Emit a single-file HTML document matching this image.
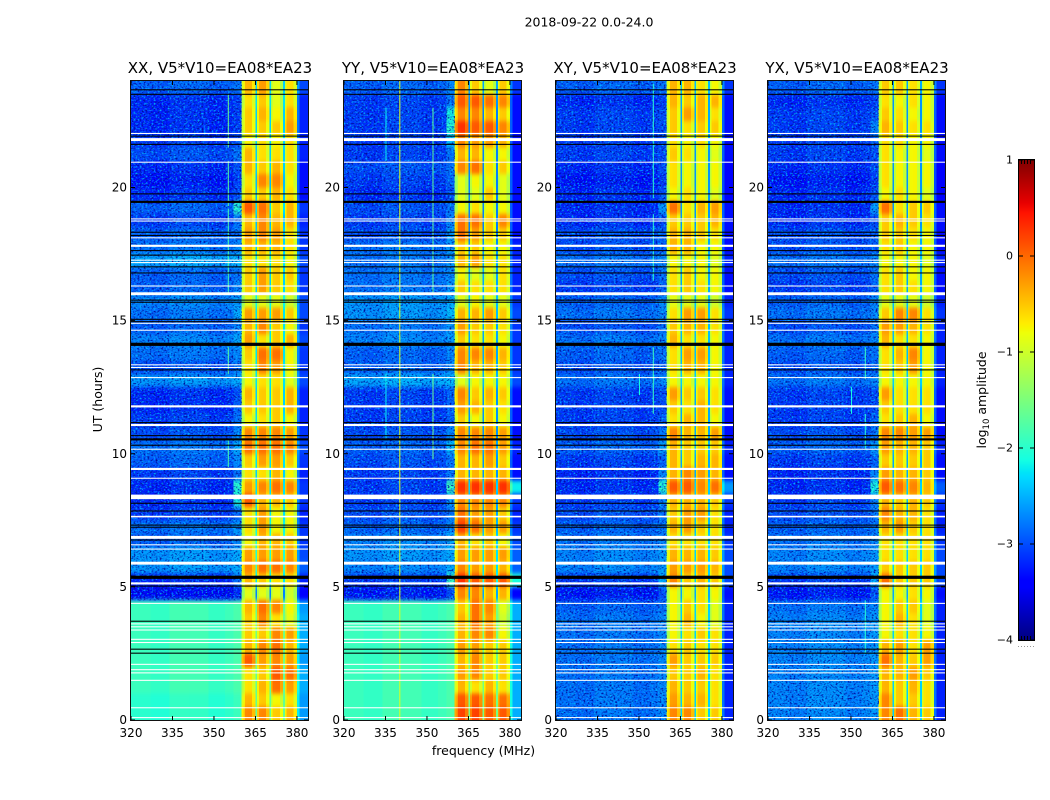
<!DOCTYPE html>
<html lang="en">
<head>
<meta charset="utf-8">
<title>2018-09-22 spectrogram</title>
<style>
html,body{margin:0;padding:0;background:#fff;}
svg{display:block;}
text{font-family:"DejaVu Sans","Liberation Sans",sans-serif;fill:#000;}
</style>
</head>
<body>
<svg id="figure" width="1050" height="800" viewBox="0 0 1050 800" xmlns="http://www.w3.org/2000/svg">
  <defs>
    <filter id="soften" x="0" y="-5%" width="100%" height="110%" color-interpolation-filters="sRGB">
      <feGaussianBlur stdDeviation="0 2"/>
    </filter>
    <filter id="speckleDark" x="0" y="0" width="100%" height="100%" color-interpolation-filters="sRGB">
      <feTurbulence type="fractalNoise" baseFrequency="0.5 0.6" numOctaves="2" seed="4"/>
      <feColorMatrix type="matrix" values="0 0 0 0 0  0 0 0 0 0.05  0 0 0 0 0.6  3.6 0 0 0 -1.75"/>
    </filter>
    <filter id="speckleLight" x="0" y="0" width="100%" height="100%" color-interpolation-filters="sRGB">
      <feTurbulence type="fractalNoise" baseFrequency="0.5 0.6" numOctaves="2" seed="11"/>
      <feColorMatrix type="matrix" values="0 0 0 0 0  0 0 0 0 0.7  0 0 0 0 1  0 3.4 0 0 -1.75"/>
    </filter>
  </defs>
  <rect x="0" y="0" width="1050" height="800" fill="#fff"/>
  <text x="589" y="26.5" font-size="12.5" text-anchor="middle">2018-09-22 0.0-24.0</text>
  <text x="483.5" y="755" font-size="12.5" text-anchor="middle">frequency (MHz)</text>
  <text x="0" y="0" font-size="12.5" text-anchor="middle" transform="translate(102,399.5) rotate(-90)">UT (hours)</text>
  <text x="0" y="0" font-size="12.5" text-anchor="middle" transform="translate(986,400) rotate(-90)">log<tspan font-size="8.5" dy="3">10</tspan><tspan dy="-3"> amplitude</tspan></text>
  <g id="panels"></g>
  <g id="colorbar"></g>
</svg>
<script>
// ---- Data (log10 amplitude) ----
const panelTitles = ["XX, V5*V10=EA08*EA23","YY, V5*V10=EA08*EA23","XY, V5*V10=EA08*EA23","YX, V5*V10=EA08*EA23"];
const xTickValues = [320,335,350,365,380];
const yTickValues = [0,5,10,15,20];
const yTickLabels = ["0","5","10","15","20"];
const colorTickValues = [1,0,-1,-2,-3,-4];
const colorTickLabels = ["1","0","\u22121","\u22122","\u22123","\u22124"];
const hourBinWidth = 0.5;

// Columns of each row: background, shoulder, sub-band 1-4, upper edge, notch. Rows run 24h -> 0h.
const xxRows = [
[-2.7,-2.6,-.5,-.4,-.9,-.7,-2.7,-2.0],[-3.0,-2.9,-.7,-.6,-.9,-.7,-2.9,-1.9],[-3.0,-2.9,-.6,-.5,-.8,-.5,-2.9,-2.0],[-3.0,-2.9,-.6,-.6,-.6,-.4,-2.9,-2.0],
[-2.9,-2.8,-.8,-.7,-.8,-.7,-2.9,-2.0],[-2.8,-2.6,-.5,-.7,-.7,-.7,-2.9,-2.0],[-3.0,-2.8,-.5,-.6,-.5,-.7,-3.0,-2.0],[-3.1,-2.9,-.7,-.3,-.3,-.8,-3.0,-2.1],
[-3.0,-2.8,-.6,-.6,-.5,-.7,-3.0,-2.1],[-2.7,-2.0,-.1,-.2,-.6,-.5,-2.8,-1.9],[-2.9,-2.6,-.5,-.3,-.5,-.5,-2.9,-2.1],[-2.7,-2.6,-.4,-.3,-.4,-.7,-2.8,-2.0],
[-2.6,-2.5,-.5,-.5,-.5,-.7,-2.8,-2.0],[-2.3,-2.2,-.7,-.7,-.7,-.8,-2.7,-1.9],[-2.7,-2.6,-.6,-.4,-.6,-.6,-2.8,-2.0],[-2.7,-2.5,-.6,-.4,-.6,-.7,-2.8,-2.0],
[-2.5,-2.4,-.9,-.9,-.9,-1.0,-2.7,-1.8],[-2.6,-2.3,-.4,-.4,-.4,-.6,-2.7,-1.9],[-2.7,-2.5,-.5,-.3,-.6,-.8,-2.8,-1.9],[-2.5,-2.3,-.4,-.7,-.6,-.5,-2.7,-1.9],
[-2.6,-2.5,-.6,-.2,-.2,-.8,-2.8,-1.9],[-2.8,-2.6,-.7,-.3,-.4,-.8,-2.8,-1.9],[-2.4,-2.3,-.8,-.7,-.7,-.9,-2.7,-1.9],[-3.0,-2.8,-.5,-.6,-.6,-.5,-2.9,-2.0],
[-3.0,-2.7,-.6,-.6,-.6,-.5,-2.9,-2.0],[-2.9,-2.6,-.8,-.7,-.6,-.8,-2.9,-1.9],[-2.8,-2.5,-.3,-.3,-.3,-.4,-2.8,-1.8],[-2.6,-2.3,-.2,-.2,-.2,-.3,-2.7,-1.7],
[-2.7,-2.5,-.6,-.4,-.4,-.6,-2.8,-1.9],[-2.9,-2.6,-.7,-.7,-.5,-.8,-2.9,-2.0],[-3.0,-2.0,-.4,-.3,-.2,-.3,-2.8,-1.9],[-3.0,-2.1,-.1,-.5,-.5,-.6,-2.8,-1.9],
[-2.9,-2.7,-.7,-.4,-.8,-.8,-2.9,-1.9],[-2.6,-2.4,-.7,-.4,-.8,-.8,-2.8,-1.8],[-2.7,-2.5,-.8,-.5,-.5,-.6,-2.8,-1.7],[-2.4,-2.3,-.4,-.4,-.4,-.4,-2.7,-1.7],
[-2.4,-2.3,-.3,-.2,-.2,-.3,-2.6,-1.6],[-3.0,-2.6,-.5,-.6,-.7,-.7,-2.9,-1.9],[-3.2,-3.0,-.9,-.9,-.9,-1.0,-3.1,-2.4],[-1.9,-1.8,-.5,-.2,-.3,-.8,-2.3,-1.3],
[-1.9,-1.8,-.6,-.3,-.7,-.9,-2.2,-1.2],[-1.9,-1.8,-.6,-.6,-.3,-.4,-2.2,-1.2],[-1.9,-1.8,-.5,-.3,-.2,-.5,-2.2,-1.2],[-1.9,-1.8,-.1,-.4,-.3,-.4,-2.3,-1.2],
[-1.9,-1.8,-.7,-.6,-.1,-.2,-2.2,-1.3],[-1.9,-1.8,-.7,-.5,-.2,-.4,-2.2,-1.3],[-2.0,-1.9,-.5,-.6,-.8,-.7,-2.3,-1.3],[-2.0,-1.9,-.3,-.3,-.6,-.5,-2.3,-1.3]
];
const yyRows = [
[-2.7,-2.5,-.3,-.6,-.9,-.6,-2.8,-2.2],[-2.9,-2.6,-.1,-.1,-.2,-.3,-3.0,-2.3],[-2.9,-2.1,-.3,-.3,-.5,-.6,-3.0,-2.4],[-2.9,-2.0,.1,-.1,-.1,-.3,-3.0,-2.4],
[-2.9,-2.2,-.3,-.4,-.4,-.5,-3.0,-2.4],[-2.9,-2.6,-.5,-.5,-.8,-.8,-3.0,-2.4],[-2.8,-2.6,-.3,-.2,-.7,-.6,-3.0,-2.4],[-2.9,-2.7,-.9,-.8,-.8,-.9,-3.0,-2.4],
[-3.0,-2.8,-.9,-.9,-.6,-.9,-3.0,-2.4],[-2.8,-2.6,-.8,-.7,-.8,-.8,-3.0,-2.4],[-2.9,-2.5,-.2,-.2,-.6,-.3,-3.0,-2.4],[-2.8,-2.4,-.2,-.4,-.6,-.6,-3.0,-2.4],
[-2.6,-2.4,-.6,-.6,-.8,-.8,-2.9,-2.3],[-2.6,-2.4,-.5,-.4,-.7,-.7,-2.9,-2.2],[-2.6,-2.5,-.8,-.9,-.9,-.7,-2.9,-2.2],[-2.6,-2.4,-.6,-.7,-.7,-.7,-2.9,-2.2],
[-2.4,-2.3,-.9,-.8,-.9,-.9,-2.8,-2.1],[-2.4,-2.2,-.5,-.5,-.4,-.6,-2.7,-2.1],[-2.6,-2.4,-.4,-.6,-.6,-.7,-2.8,-2.2],[-2.5,-2.4,-.6,-.7,-.7,-.8,-2.8,-2.2],
[-2.7,-2.5,-.3,-.3,-.3,-.5,-2.8,-2.2],[-2.7,-2.5,-.3,-.5,-.5,-.6,-2.8,-2.2],[-2.3,-2.2,-.9,-.8,-.8,-.8,-2.7,-2.1],[-2.9,-2.7,-.3,-.6,-.5,-.6,-3.0,-2.3],
[-2.9,-2.7,-.4,-.5,-.6,-.7,-3.0,-2.3],[-2.9,-2.7,-.6,-.8,-.6,-.8,-3.0,-2.3],[-2.8,-2.5,-.3,-.3,-.3,-.4,-3.0,-2.3],[-2.7,-2.2,-.3,-.2,-.2,-.4,-2.9,-2.2],
[-2.8,-2.6,-.5,-.5,-.4,-.6,-3.0,-2.3],[-2.9,-2.6,-.5,-.5,-.5,-.5,-3.0,-2.3],[-2.9,-1.9,.2,.2,.2,.2,-2.1,-2.0],[-2.9,-2.4,-.3,-.3,-.3,-.3,-2.8,-2.2],
[-2.8,-2.6,-.2,-.4,-.4,-.6,-2.9,-2.2],[-2.7,-2.5,0,-.2,-.4,-.4,-2.8,-2.1],[-2.5,-2.3,-.5,-.7,-.6,-.8,-2.7,-2.0],[-2.4,-2.3,-.4,-.4,-.4,-.4,-2.6,-1.9],
[-2.5,-2.3,-.3,-.4,-.4,-.5,-2.6,-1.9],[-2.9,-1.9,.1,-.1,-.1,-.1,-2.0,-1.8],[-3.1,-2.8,-.3,-.3,-.5,-.5,-3.1,-2.2],[-1.9,-1.8,-.6,-.2,-.3,-.9,-2.2,-1.2],
[-1.9,-1.8,-.5,-.2,-.4,-1.0,-2.2,-1.2],[-1.9,-1.8,-.5,-.3,-.3,-.8,-2.2,-1.2],[-1.9,-1.8,-.4,-.4,-.6,-.6,-2.2,-1.2],[-1.9,-1.8,-.5,-.3,-.6,-.6,-2.2,-1.2],
[-1.9,-1.8,-.4,-.3,-.6,-.6,-2.2,-1.2],[-1.9,-1.8,-.5,-.7,-.5,-.7,-2.2,-1.2],[-1.9,-1.8,-.1,-.1,-.2,-.2,-2.2,-1.2],[-1.9,-1.8,0,0,-.1,-.1,-2.2,-1.2]
];
const xyRows = [
[-2.7,-2.6,-.5,-.5,-.7,-.8,-2.8,-2.1],[-3.0,-2.9,-.5,-.6,-.5,-.5,-3.0,-2.2],[-2.9,-2.8,-.6,-.4,-.5,-.7,-3.0,-2.2],[-2.9,-2.8,-.6,-.7,-.6,-.6,-3.0,-2.2],
[-2.9,-2.8,-.7,-.8,-.7,-.8,-3.0,-2.2],[-2.9,-2.8,-.6,-.7,-.8,-.9,-3.0,-2.3],[-3.0,-2.8,-.7,-.8,-.8,-.8,-3.1,-2.3],[-3.1,-2.9,-.7,-.8,-.8,-.8,-3.1,-2.3],
[-3.0,-2.8,-.8,-.7,-.8,-.9,-3.1,-2.3],[-3.0,-2.4,-.2,-.7,-.5,-.4,-3.0,-2.3],[-3.0,-2.8,-.6,-.6,-.6,-.5,-3.0,-2.3],[-2.8,-2.7,-.5,-.5,-.6,-.7,-3.0,-2.2],
[-2.8,-2.7,-.5,-.5,-.8,-.8,-3.0,-2.2],[-2.6,-2.5,-.8,-.8,-.8,-.9,-2.9,-2.1],[-2.8,-2.6,-.7,-.6,-.8,-.8,-3.0,-2.2],[-2.9,-2.7,-.7,-.6,-.7,-.8,-3.0,-2.2],
[-2.7,-2.5,-.9,-.9,-.9,-1.0,-2.9,-2.1],[-2.6,-2.5,-.7,-.4,-.4,-.7,-2.8,-2.1],[-2.8,-2.6,-.6,-.5,-.5,-.7,-2.9,-2.1],[-2.6,-2.5,-.5,-.7,-.7,-.8,-2.9,-2.1],
[-2.7,-2.6,-.7,-.4,-.4,-.8,-2.9,-2.1],[-2.8,-2.7,-.7,-.5,-.5,-.8,-2.9,-2.1],[-2.6,-2.5,-.8,-.8,-.8,-.8,-2.9,-2.0],[-2.9,-2.8,-.4,-.6,-.6,-.7,-3.0,-2.2],
[-2.9,-2.8,-.6,-.7,-.5,-.7,-3.0,-2.2],[-2.9,-2.7,-.7,-.5,-.5,-.8,-3.0,-2.2],[-2.8,-2.6,-.3,-.5,-.5,-.4,-3.0,-2.2],[-2.7,-2.4,-.5,-.6,-.6,-.6,-2.9,-2.1],
[-2.9,-2.7,-.5,-.6,-.5,-.5,-3.0,-2.2],[-3.0,-2.5,-.5,-.3,-.4,-.5,-3.0,-2.2],[-3.0,-2.0,-.1,-.1,-.3,-.2,-2.3,-2.0],[-2.9,-2.5,-.5,-.5,-.5,-.6,-2.8,-2.1],
[-2.8,-2.6,-.6,-.4,-.4,-.7,-2.9,-2.1],[-2.7,-2.6,-.5,-.4,-.6,-.7,-2.9,-2.1],[-2.6,-2.5,-.7,-.7,-.7,-.7,-2.8,-2.0],[-2.5,-2.4,-.5,-.5,-.5,-.6,-2.7,-2.0],
[-2.5,-2.4,-.4,-.4,-.4,-.5,-2.7,-2.0],[-2.9,-2.3,-.3,-.6,-.5,-.6,-2.7,-2.0],[-3.1,-2.8,-.8,-.8,-.7,-.8,-3.0,-2.2],[-2.7,-2.6,-.8,-.6,-.7,-.9,-2.9,-2.0],
[-2.6,-2.5,-.8,-.5,-.8,-.9,-2.9,-2.0],[-2.6,-2.5,-.8,-.7,-.6,-.7,-2.9,-2.0],[-2.6,-2.5,-.7,-.6,-.7,-.7,-2.9,-2.0],[-2.6,-2.5,-.4,-.6,-.6,-.6,-2.9,-2.0],
[-2.6,-2.5,-.6,-.6,-.5,-.7,-2.9,-2.0],[-2.6,-2.5,-.5,-.6,-.6,-.7,-2.9,-2.0],[-2.6,-2.5,-.4,-.5,-.5,-.7,-2.9,-2.0],[-2.6,-2.5,-.3,-.3,-.6,-.6,-2.9,-2.0]
];
const yxRows = [
[-2.7,-2.6,-.6,-.6,-.7,-.8,-2.8,-2.2],[-3.0,-2.9,-.7,-.8,-.7,-.8,-3.0,-2.3],[-2.9,-2.8,-.6,-.7,-.8,-.8,-3.0,-2.3],[-2.9,-2.5,-.5,-.6,-.7,-.7,-3.0,-2.3],
[-2.9,-2.7,-.7,-.7,-.8,-.8,-3.0,-2.3],[-2.9,-2.8,-.7,-.8,-.8,-.9,-3.0,-2.3],[-3.0,-2.8,-.7,-.8,-.8,-.8,-3.1,-2.3],[-3.1,-2.9,-.7,-.8,-.8,-.8,-3.1,-2.3],
[-3.0,-2.8,-.8,-.7,-.8,-.9,-3.1,-2.3],[-3.0,-2.4,-.2,-.7,-.6,-.6,-3.0,-2.3],[-3.0,-2.8,-.6,-.5,-.6,-.7,-3.0,-2.3],[-2.8,-2.7,-.6,-.6,-.7,-.8,-3.0,-2.2],
[-2.8,-2.7,-.7,-.6,-.8,-.8,-3.0,-2.2],[-2.6,-2.5,-.8,-.8,-.8,-.9,-2.9,-2.1],[-2.8,-2.6,-.7,-.6,-.8,-.8,-3.0,-2.2],[-2.9,-2.7,-.7,-.6,-.7,-.8,-3.0,-2.2],
[-2.7,-2.5,-.9,-.9,-.9,-1.0,-2.9,-2.1],[-2.6,-2.5,-.6,-.3,-.3,-.7,-2.8,-2.1],[-2.8,-2.6,-.4,-.4,-.5,-.7,-2.9,-2.1],[-2.6,-2.5,-.5,-.7,-.7,-.8,-2.9,-2.1],
[-2.7,-2.6,-.7,-.5,-.3,-.8,-2.9,-2.1],[-2.8,-2.7,-.7,-.6,-.4,-.8,-2.9,-2.1],[-2.6,-2.5,-.8,-.8,-.8,-.8,-2.9,-2.0],[-2.9,-2.8,-.4,-.7,-.7,-.7,-3.0,-2.2],
[-2.9,-2.8,-.6,-.7,-.7,-.7,-3.0,-2.2],[-2.9,-2.7,-.7,-.6,-.5,-.8,-3.0,-2.2],[-2.8,-2.6,-.3,-.3,-.4,-.4,-3.0,-2.2],[-2.7,-2.4,-.4,-.5,-.5,-.6,-2.9,-2.1],
[-2.9,-2.7,-.6,-.6,-.6,-.6,-3.0,-2.2],[-3.0,-2.5,-.4,-.5,-.5,-.6,-3.0,-2.2],[-3.0,-2.1,-.1,-.2,-.3,-.5,-2.6,-2.0],[-2.9,-2.5,-.5,-.6,-.5,-.6,-2.8,-2.1],
[-2.8,-2.6,-.3,-.5,-.5,-.7,-2.9,-2.1],[-2.7,-2.6,-.5,-.4,-.6,-.7,-2.9,-2.1],[-2.6,-2.5,-.7,-.7,-.7,-.7,-2.8,-2.0],[-2.5,-2.4,-.7,-.7,-.7,-.7,-2.7,-2.0],
[-2.5,-2.4,-.6,-.6,-.6,-.6,-2.7,-2.0],[-2.9,-2.3,-.2,-.6,-.6,-.6,-2.7,-2.0],[-3.1,-2.8,-.8,-.8,-.7,-.8,-3.0,-2.2],[-2.6,-2.5,-.8,-.6,-.6,-.9,-2.9,-2.0],
[-2.5,-2.4,-.8,-.5,-.7,-.9,-2.9,-2.0],[-2.5,-2.4,-.8,-.7,-.7,-.8,-2.9,-2.0],[-2.5,-2.4,-.5,-.4,-.7,-.4,-2.9,-2.0],[-2.5,-2.4,-.2,-.5,-.6,-.4,-2.9,-2.0],
[-2.5,-2.4,-.5,-.5,-.4,-.6,-2.9,-2.0],[-2.5,-2.4,-.5,-.6,-.5,-.7,-2.9,-2.0],[-2.5,-2.4,-.3,-.6,-.6,-.7,-2.9,-2.0],[-2.5,-2.4,-.3,-.2,-.5,-.6,-2.9,-2.0]
];
const panelRows = [xxRows,yyRows,xyRows,yxRows];

// Overall level corrections per kind of column.
const quietBackgroundShift = -.22;
const quietBackgroundLimit = -2.1;
const subbandCentre = -.8;
const subbandContrast = 1.2;
const subbandCeiling = .25;
const notchShift = -.35;

// Frequency structure (MHz) and spectral offsets across the band.
const backgroundEdges = [320,327,334,341,348,354,357];
const backgroundOffsets = [0,-.05,.06,.05,-.04,.02];
const shoulderEdges = [357,360];
const subbandStarts = [360,365,370,375];
const subbandEdges = [.6,1.2,2.2,3.8,5];
const subbandShape = [-.3,.03,.05,-.25];
const notchWidth = .6;
const upperEdges = [380,381,384];
const upperOffsets = [.3,-.1];

// Narrow interference lines: frequency, start hour, end hour, value.
const xxInterference = [[355,21.5,23.5,-1.6],[355,19.3,21,-1.7],[355,16,19.2,-1.8],[355,13,14,-1.7],[355,9.5,10.5,-1.8]];
const yyInterference = [[340,0,24,-.9],[352,16,23,-1.7],[352,9.8,13,-1.6],[335,10.5,13,-2.2],[335,21,23,-2.2]];
const xyInterference = [[355,19.6,23.9,-2.0],[355,16.5,19,-2.0],[355,12.8,14,-1.9],[355,11.5,12.9,-1.9],[350,12.2,13,-2.1]];
const yxInterference = [[355,12.8,14,-1.9],[355,10.2,11.5,-2.0],[355,2.5,4.5,-2.0],[350,11.5,12.5,-2.1]];
const panelInterference = [xxInterference,yyInterference,xyInterference,yxInterference];

// Hour below which each panel's background is smooth rather than speckled.
const speckleFloorHours = [4.5,4.5,0,0];

// Flagged times: centre hour and span in hours. Blank rows are white, black rows are dark lines.
const blankHours = [22.03,21.8,20.95,18.82,18.74,18.11,17.81,17.27,17.18,16.3,16.01,14.9,14.64,13.34,13.24,12.86,11.78,11.08,10.17,9.43,9.08,8.38,7.64,6.86,6.58,6.42,5.89,5.13,4.38,3.61,3.5,3.38,3.03,2.91,2.09,1.89,1.77,1.49,.46,.09];
const blankSpans = [.04,.11,.04,.04,.04,.04,.08,.04,.04,.04,.11,.04,.04,.04,.04,.04,.08,.08,.04,.08,.04,.17,.06,.11,.04,.04,.11,.08,.04,.04,.04,.04,.04,.04,.04,.04,.04,.04,.04,.04];
const darkHours = [23.67,23.5,21.93,21.62,19.76,19.46,18.32,18.2,17.63,17.46,17.02,16.79,15.77,15.69,15.05,14.96,14.11,13.15,11.17,10.68,10.54,10.32,8.14,7.85,7.32,7.24,6.76,5.36,5.03,3.71,2.66,2.51];
const darkSpans = [.04,.04,.04,.04,.04,.08,.04,.04,.04,.04,.04,.04,.04,.04,.04,.04,.12,.04,.04,.04,.08,.04,.04,.04,.04,.04,.04,.12,.04,.04,.04,.04];

// ---- Axes ----
const NS = "http://www.w3.org/2000/svg";
const panelLeft = [131,344,556,768];
const panelWidth = 177;
const plotTop = 81, plotBottom = 720;
const freqMin = 320, freqMax = 384, hourMax = 24;
const colorMin = -4, colorMax = 1;
const barX = 1019, barWidth = 15, barTop = 160, barBottom = 640;

function xScale(i,f){ return panelLeft[i] + (f-freqMin)/(freqMax-freqMin)*panelWidth; }
function yScale(h){ return plotBottom - h/hourMax*(plotBottom-plotTop); }
function colorY(v){ return barBottom - (v-colorMin)/(colorMax-colorMin)*(barBottom-barTop); }

function piece(t,pts){
  for(let k=1;k<pts.length;k++){
    if(t<=pts[k][0]){
      const a=pts[k-1],b=pts[k];
      return a[1]+(b[1]-a[1])*(t-a[0])/(b[0]-a[0]);
    }
  }
  return pts[pts.length-1][1];
}
const jetR=[[0,0],[.35,0],[.66,1],[.89,1],[1,.5]];
const jetG=[[0,0],[.125,0],[.375,1],[.64,1],[.91,0],[1,0]];
const jetB=[[0,.5],[.11,1],[.34,1],[.65,0],[1,0]];
function jet(v){
  const t=Math.max(0,Math.min(1,(v-colorMin)/(colorMax-colorMin)));
  return "rgb("+Math.round(piece(t,jetR)*255)+","+Math.round(piece(t,jetG)*255)+","+Math.round(piece(t,jetB)*255)+")";
}
function svgEl(tag,parent,attrs){
  const el=document.createElementNS(NS,tag);
  for(const k in attrs){ el.setAttribute(k,attrs[k]); }
  parent.appendChild(el);
  return el;
}
function quiet(v){ return v<quietBackgroundLimit ? v+quietBackgroundShift : v; }
function bandLevel(v){ return Math.min(subbandCeiling, subbandCentre+(v-subbandCentre)*subbandContrast); }

// Band columns for one row: [f0, f1, value]
function rowColumns(row){
  const cols=[];
  for(let b=0;b<backgroundOffsets.length;b++){
    cols.push([backgroundEdges[b],backgroundEdges[b+1],quiet(row[0])+backgroundOffsets[b]]);
  }
  cols.push([shoulderEdges[0],shoulderEdges[1],quiet(row[1])]);
  for(let s=0;s<subbandStarts.length;s++){
    const f=subbandStarts[s];
    const level=bandLevel(row[2+s]);
    const notch = s===0 ? level-.5 : row[7]+notchShift;
    cols.push([f,f+notchWidth,notch]);
    for(let c=0;c<subbandShape.length;c++){
      cols.push([f+subbandEdges[c],f+subbandEdges[c+1],level+subbandShape[c]]);
    }
  }
  for(let e=0;e<upperOffsets.length;e++){
    cols.push([upperEdges[e],upperEdges[e+1],quiet(row[6])+upperOffsets[e]]);
  }
  return cols;
}

const panelsGroup=document.getElementById("panels");
const defs=document.querySelector("defs");
panelTitles.forEach(function(title,i){
  const g=svgEl("g",panelsGroup,{});
  
  

  const clip=svgEl("clipPath",defs,{id:"plot-clip-"+i});
  svgEl("rect",clip,{x:panelLeft[i],y:plotTop,width:panelWidth,height:plotBottom-plotTop});

  const clipped=svgEl("g",g,{"clip-path":"url(#plot-clip-"+i+")"});
  
  

  const heat=svgEl("g",clipped,{"shape-rendering":"crispEdges",filter:"url(#soften)"});
  
  
  const lastRow=panelRows[i].length-1;
  panelRows[i].forEach(function(row,r){
    const hTop=hourMax-r*hourBinWidth, hBot=hTop-hourBinWidth;
    const y0=yScale(hTop)-(r===0?10:0);
    const y1=yScale(hBot)+(r===lastRow?10:0);
    rowColumns(row).forEach(function(col){
      const x0=xScale(i,col[0]), x1=xScale(i,col[1]);
      const cell=svgEl("rect",heat,{x:x0.toFixed(2),y:y0.toFixed(2),width:(x1-x0+.3).toFixed(2),height:(y1-y0+.3).toFixed(2),fill:jet(col[2])});
      
      
    });
  });

  const noiseRight=xScale(i,subbandStarts[0]);
  const noiseBottom=yScale(speckleFloorHours[i]);
  const dark=svgEl("rect",clipped,{x:panelLeft[i],y:plotTop,width:noiseRight-panelLeft[i],height:noiseBottom-plotTop,filter:"url(#speckleDark)"});
  
  
  const light=svgEl("rect",clipped,{x:panelLeft[i],y:plotTop,width:noiseRight-panelLeft[i],height:noiseBottom-plotTop,filter:"url(#speckleLight)"});
  
  

  panelInterference[i].forEach(function(line){
    const x=xScale(i,line[0]);
    const rfi=svgEl("rect",clipped,{x:x.toFixed(2),y:yScale(line[2]).toFixed(2),width:1,height:(yScale(line[1])-yScale(line[2])).toFixed(2),fill:jet(line[3])});
    
    
  });

  blankHours.forEach(function(h,k){
    const y0=yScale(h+blankSpans[k]/2), y1=yScale(h-blankSpans[k]/2);
    const band=svgEl("rect",clipped,{x:panelLeft[i],y:y0.toFixed(2),width:panelWidth,height:(y1-y0).toFixed(2),fill:"#fff"});
    
    
  });
  darkHours.forEach(function(h,k){
    const y0=yScale(h+darkSpans[k]/2), y1=yScale(h-darkSpans[k]/2);
    const band=svgEl("rect",clipped,{x:panelLeft[i],y:y0.toFixed(2),width:panelWidth,height:(y1-y0).toFixed(2),fill:"#000"});
    
    
  });

  const frame=svgEl("rect",g,{x:panelLeft[i]-.5,y:plotTop-.5,width:panelWidth+1,height:plotBottom-plotTop+1,fill:"none",stroke:"#111","stroke-width":1});
  
  

  xTickValues.forEach(function(v){
    const x=xScale(i,v);
    const t1=svgEl("line",g,{x1:x,x2:x,y1:plotBottom,y2:plotBottom-4,stroke:"#000","stroke-width":1});
    
    
    const t2=svgEl("line",g,{x1:x,x2:x,y1:plotTop,y2:plotTop+4,stroke:"#000","stroke-width":1});
    
    
    const lab=svgEl("text",g,{x:x,y:plotBottom+17,"font-size":12,"text-anchor":"middle"});
    
    
    lab.textContent=String(v);
  });
  yTickValues.forEach(function(v,k){
    const y=yScale(v);
    const t1=svgEl("line",g,{x1:panelLeft[i],x2:panelLeft[i]+4,y1:y,y2:y,stroke:"#000","stroke-width":1});
    
    
    const t2=svgEl("line",g,{x1:panelLeft[i]+panelWidth,x2:panelLeft[i]+panelWidth-4,y1:y,y2:y,stroke:"#000","stroke-width":1});
    
    
    const lab=svgEl("text",g,{x:panelLeft[i]-4,y:y+4,"font-size":12,"text-anchor":"end"});
    
    
    lab.textContent=yTickLabels[k];
  });
  const head=svgEl("text",g,{x:panelLeft[i]+panelWidth/2+.5,y:73,"font-size":15,"text-anchor":"middle"});
  
  
  head.textContent=title;
});

// ---- Colorbar ----
const bar=document.getElementById("colorbar");
const barImage=svgEl("g",bar,{"shape-rendering":"crispEdges"});


for(let y=barTop;y<barBottom;y++){
  const v=colorMax-(y+.5-barTop)/(barBottom-barTop)*(colorMax-colorMin);
  const s=svgEl("rect",barImage,{x:barX,y:y,width:barWidth,height:1,fill:jet(v)});
  
  
}
const barFrame=svgEl("rect",bar,{x:barX-.5,y:barTop-.5,width:barWidth+1,height:barBottom-barTop+1,fill:"none",stroke:"#000","stroke-width":1});


colorTickValues.forEach(function(v,k){
  const y=colorY(v);
  const t1=svgEl("line",bar,{x1:barX,x2:barX+4,y1:y,y2:y,stroke:"#000","stroke-width":1});
  
  
  const t2=svgEl("line",bar,{x1:barX+barWidth-4,x2:barX+barWidth,y1:y,y2:y,stroke:"#000","stroke-width":1});
  
  
  const lab=svgEl("text",bar,{x:barX-6,y:y+3.5,"font-size":11,"text-anchor":"end"});
  
  
  lab.textContent=colorTickLabels[k];
});
const barMinorTicks=[2.5,5.5,8.5,11.5];
barMinorTicks.forEach(function(dx){
  const top=svgEl("line",bar,{x1:barX+dx,x2:barX+dx,y1:barTop,y2:barTop+4,stroke:"#000","stroke-width":1});
  
  
  const bot=svgEl("line",bar,{x1:barX+dx,x2:barX+dx,y1:barBottom,y2:barBottom-4,stroke:"#000","stroke-width":1});
  
  
});
const barDots=svgEl("line",bar,{x1:barX-1,x2:barX+barWidth,y1:646.5,y2:646.5,stroke:"#999","stroke-width":1,"stroke-dasharray":"1 2"});


</script>
</body>
</html>
